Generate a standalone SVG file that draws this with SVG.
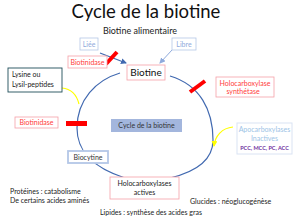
<svg xmlns="http://www.w3.org/2000/svg" width="300" height="218" viewBox="0 0 300 218">
<defs>
<style>
text{font-family:Lato,"Liberation Sans",sans-serif;}
.box{fill:#fff;stroke-width:0.8;}
.pink{stroke:#F4A0A8;}
.lblue{stroke:#B4C7E7;}
.red{fill:#FF3B3B;}
.blk{fill:#222;}
.t7{font-size:7px;}
.arc{fill:none;stroke:#4169B0;stroke-width:1.2;}
.bar{stroke:#FF0000;stroke-width:4;}
.yl{fill:none;stroke:#FFFF00;stroke-width:1.2;}
</style>
<marker id="ab" markerWidth="6" markerHeight="6" refX="5" refY="3" orient="auto" markerUnits="userSpaceOnUse"><path d="M0,0 L6,3 L0,6 z" fill="#4169B0"/></marker>
<marker id="al" markerWidth="6" markerHeight="6" refX="5" refY="3" orient="auto" markerUnits="userSpaceOnUse"><path d="M0,0 L6,3 L0,6 z" fill="#8FAADC"/></marker>
<marker id="ay" markerWidth="6" markerHeight="6" refX="5" refY="3" orient="auto" markerUnits="userSpaceOnUse"><path d="M0,0 L6,3 L0,6 z" fill="#FFFF00"/></marker>
</defs>
<rect width="300" height="218" fill="#fff"/>
<text x="146" y="18" font-size="18.5" text-anchor="middle" fill="#111">Cycle de la biotine</text>
<text x="140" y="34" font-size="9" text-anchor="middle" fill="#222">Biotine alimentaire</text>

<g id="connectors">
<path class="arc" d="M120,73 C96,80 77,100 77,128 C77,148 88,166 125,178"/>
<path class="arc" d="M170,178 C195,172 213,160 213,140 C213,110 200,85 170,76"/>
<path class="yl" d="M62,88 C72,89 77,96 79,104"/>
<path class="yl" d="M233,127 C222,128 215,136 214,146" marker-end="url(#ay)"/>
<path d="M100,53 L126,63" stroke="#4169B0" stroke-width="1.2" marker-end="url(#ab)"/>
<path d="M172,50 L160,63" stroke="#8FAADC" stroke-width="1" marker-end="url(#al)"/>
</g>

<g id="bars">
<line class="bar" x1="106" y1="64" x2="117" y2="52"/>
<line class="bar" x1="190" y1="92" x2="205" y2="81"/>
<rect x="66" y="121" width="21" height="5" fill="#FF0000"/>
</g>

<g id="liee"><rect class="box lblue" x="80" y="38" width="18" height="12"/><text class="t7" x="89" y="46.5" text-anchor="middle" fill="#8FAADC">Liée</text></g>
<g id="libre"><rect class="box lblue" x="172" y="38" width="24" height="12"/><text class="t7" x="184" y="46.5" text-anchor="middle" fill="#8FAADC">Libre</text></g>
<g id="biotinidase1"><rect class="box pink" x="68" y="56" width="39" height="12"/><text class="t7 red" x="87.5" y="64.5" text-anchor="middle">Biotinidase</text></g>
<g id="biotine"><rect class="box pink" x="127" y="65" width="38" height="15"/><text x="146" y="76" font-size="10" text-anchor="middle" fill="#111">Biotine</text></g>
<g id="lysine"><rect x="8" y="68" width="54" height="24" fill="#fff" stroke="#1F4E5A" stroke-width="0.9"/><text class="t7 blk" x="12" y="77">Lysine ou</text><text class="t7 blk" x="12" y="87">Lysil-peptides</text></g>
<g id="biotinidase2"><rect class="box pink" x="15" y="117" width="43" height="11"/><text class="t7 red" x="36.5" y="125" text-anchor="middle">Biotinidase</text></g>
<g id="cycle"><rect x="111" y="119" width="71" height="13" fill="#A3B6DD"/><text class="t7" x="146.5" y="128" text-anchor="middle" fill="#333">Cycle de la biotine</text></g>
<g id="hcs"><rect class="box pink" x="216" y="77" width="58" height="20"/><text class="t7 red" x="245" y="85.5" text-anchor="middle">Holocarboxylase</text><text class="t7 red" x="243" y="94" text-anchor="middle">synthétase</text></g>
<g id="apo"><rect x="237" y="123" width="55" height="31" fill="#fff" stroke="#DAE3F3" stroke-width="1"/><text class="t7" x="264.5" y="132" text-anchor="middle" fill="#9DC3E6">Apocarboxylases</text><text class="t7" x="264.5" y="141" text-anchor="middle" fill="#9DC3E6">Inactives</text><text x="264.5" y="150" font-size="5.5" font-weight="bold" text-anchor="middle" fill="#7030A0">PCC, MCC, PC, ACC</text></g>
<g id="biocytine"><rect x="68" y="151" width="40" height="12" fill="#fff" stroke="#B4C7E7" stroke-width="1.8"/><text class="t7" x="88" y="159.5" text-anchor="middle" fill="#333">Biocytine</text></g>
<g id="holo"><rect class="box pink" x="110" y="177" width="69" height="22"/><text class="t7 blk" x="144.5" y="186" text-anchor="middle">Holocarboxylases</text><text class="t7 blk" x="144.5" y="195" text-anchor="middle">actives</text></g>

<text class="t7 blk" x="10" y="194">Protéines : catabolisme</text>
<text class="t7 blk" x="10" y="203">De certains acides aminés</text>
<text class="t7 blk" x="190" y="204">Glucides : néoglucogénèse</text>
<text class="t7 blk" x="100" y="215">Lipides : synthèse des acides gras</text>
</svg>
